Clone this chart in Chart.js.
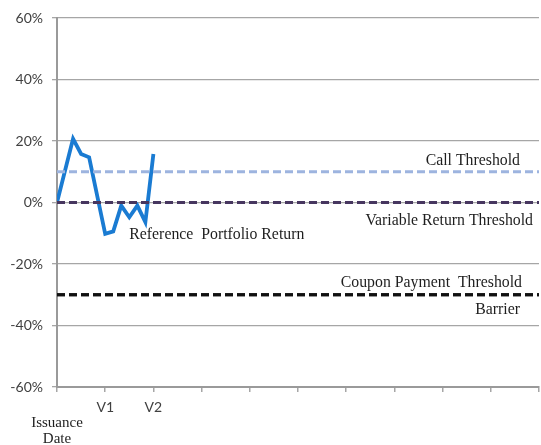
<!DOCTYPE html>
<html>
<head>
<meta charset="utf-8">
<script src="https://cdn.jsdelivr.net/npm/chart.js@4"></script>
<style>
  html, body { margin: 0; padding: 0; background: #fff; }
  #wrap { width: 541px; height: 445px; position: relative; }
</style>
</head>
<body>
<div id="wrap"><canvas id="myChart"></canvas></div>
<script>
// observation steps, 6 steps per valuation period (6 = V1, 12 = V2)
const returnSteps = [0, 2, 3, 4, 6, 7, 8, 9, 10, 11, 12];
const portfolioReturn = [0, 20.7, 15.8, 14.7, -10.2, -9.4, -1, -4.8, -1, -6.4, 15.8];
const stepsPerPeriod = 6;

// one label per valuation period
const xTickLabels = [["", "Issuance", "Date"], "V1", "V2", "", "", "", "", "", "", "", ""];

// threshold levels in %
const callThreshold = 10;
const variableReturnThreshold = 0;
const couponThreshold = -30;
const barrier = -30;

const lastPeriod = xTickLabels.length - 1;
const gridGray = "#a6a6a6";
const serif = "'Liberation Serif', 'Times New Roman', serif";

function levelLine(level) {
  return [{ x: 0, y: level }, { x: lastPeriod, y: level }];
}

const returnPoints = returnSteps.map((s, i) => ({ x: s / stepsPerPeriod, y: portfolioReturn[i] }));

//writes the texts next to the lines
const textLabels = {
  id: "textLabels",
  afterDatasetsDraw(chart) {
    const { ctx, chartArea, scales: { x, y } } = chart;
    ctx.save();
    ctx.font = "15.8px " + serif;
    ctx.fillStyle = "#1e1e1e";
    ctx.textBaseline = "middle";
    ctx.textAlign = "right";
    ctx.fillText("Call Threshold", chartArea.right - 19, y.getPixelForValue(callThreshold) - 11);
    ctx.fillText("Variable Return Threshold", chartArea.right - 6, y.getPixelForValue(variableReturnThreshold) + 18);
    ctx.fillText("Coupon Payment  Threshold", chartArea.right - 17, y.getPixelForValue(couponThreshold) - 12);
    ctx.fillText("Barrier", chartArea.right - 19, y.getPixelForValue(barrier) + 15);
    ctx.textAlign = "left";
    ctx.fillText("Reference  Portfolio Return", x.getPixelForValue(1.5), y.getPixelForValue(-10) + 2);
    ctx.restore();
  }
};

const ctx = document.getElementById("myChart");
new Chart(ctx, {
  type: "line",
  data: {
    datasets: [
      {
        label: "Reference Portfolio Return",
        data: returnPoints,
        borderColor: "#1a7bd2",
        borderWidth: 3.8,
        pointRadius: 0,
        tension: 0,
        order: 5
      },
      {
        label: "Call Threshold",
        data: levelLine(callThreshold),
        borderColor: "#9db4df",
        borderWidth: 3.2,
        borderDash: [8, 4],
        pointRadius: 0,
        order: 4
      },
      {
        label: "Variable Return Threshold",
        data: levelLine(variableReturnThreshold),
        borderColor: "#46365f",
        borderWidth: 3.2,
        borderDash: [8, 4],
        pointRadius: 0,
        order: 1
      },
      {
        label: "Coupon Payment Threshold",
        data: levelLine(couponThreshold),
        borderColor: "#111111",
        borderWidth: 3.2,
        borderDash: [8, 4],
        pointRadius: 0,
        order: 2
      },
      {
        label: "Barrier",
        data: levelLine(barrier),
        borderColor: "#111111",
        borderWidth: 3.2,
        borderDash: [8, 4],
        pointRadius: 0,
        order: 3
      }
    ]
  },
  options: {
    responsive: true,
    maintainAspectRatio: false,
    animation: false,
    layout: { padding: { top: 18, right: 2, left: 0, bottom: 0 } },
    plugins: {
      legend: { display: false },
      tooltip: { enabled: false }
    },
    scales: {
      x: {
        type: "linear",
        min: 0,
        max: lastPeriod,
        afterFit: (scale) => {
          scale.height = 58;
          scale.paddingLeft = 0;
          scale.paddingRight = 0;
        },
        grid: { drawOnChartArea: false, color: gridGray, lineWidth: 1.5, tickLength: 5 },
        border: { color: "#9a9a9a", width: 2 },
        ticks: {
          stepSize: 1,
          autoSkip: false,
          maxRotation: 0,
          padding: 7,
          color: (c) => c.index === 0 ? "#1e1e1e" : "#404040",
          font: (c) => c.index === 0
            ? { family: serif, size: 15, lineHeight: 1.07 }
            : { family: "Lato, 'Open Sans', sans-serif", size: 14, lineHeight: 1.15 },
          callback: (v) => xTickLabels[v]
        }
      },
      y: {
        min: -60,
        max: 60,
        afterFit: (scale) => { scale.width = 57; },
        grid: { color: gridGray, lineWidth: 1.3, tickLength: 5 },
        border: { color: "#9a9a9a", width: 2 },
        ticks: {
          stepSize: 20,
          padding: 9,
          color: "#404040",
          font: { family: "Lato, 'Open Sans', sans-serif", size: 14 },
          callback: (v) => v + "%"
        }
      }
    }
  },
  plugins: [textLabels]
});
</script>
</body>
</html>
